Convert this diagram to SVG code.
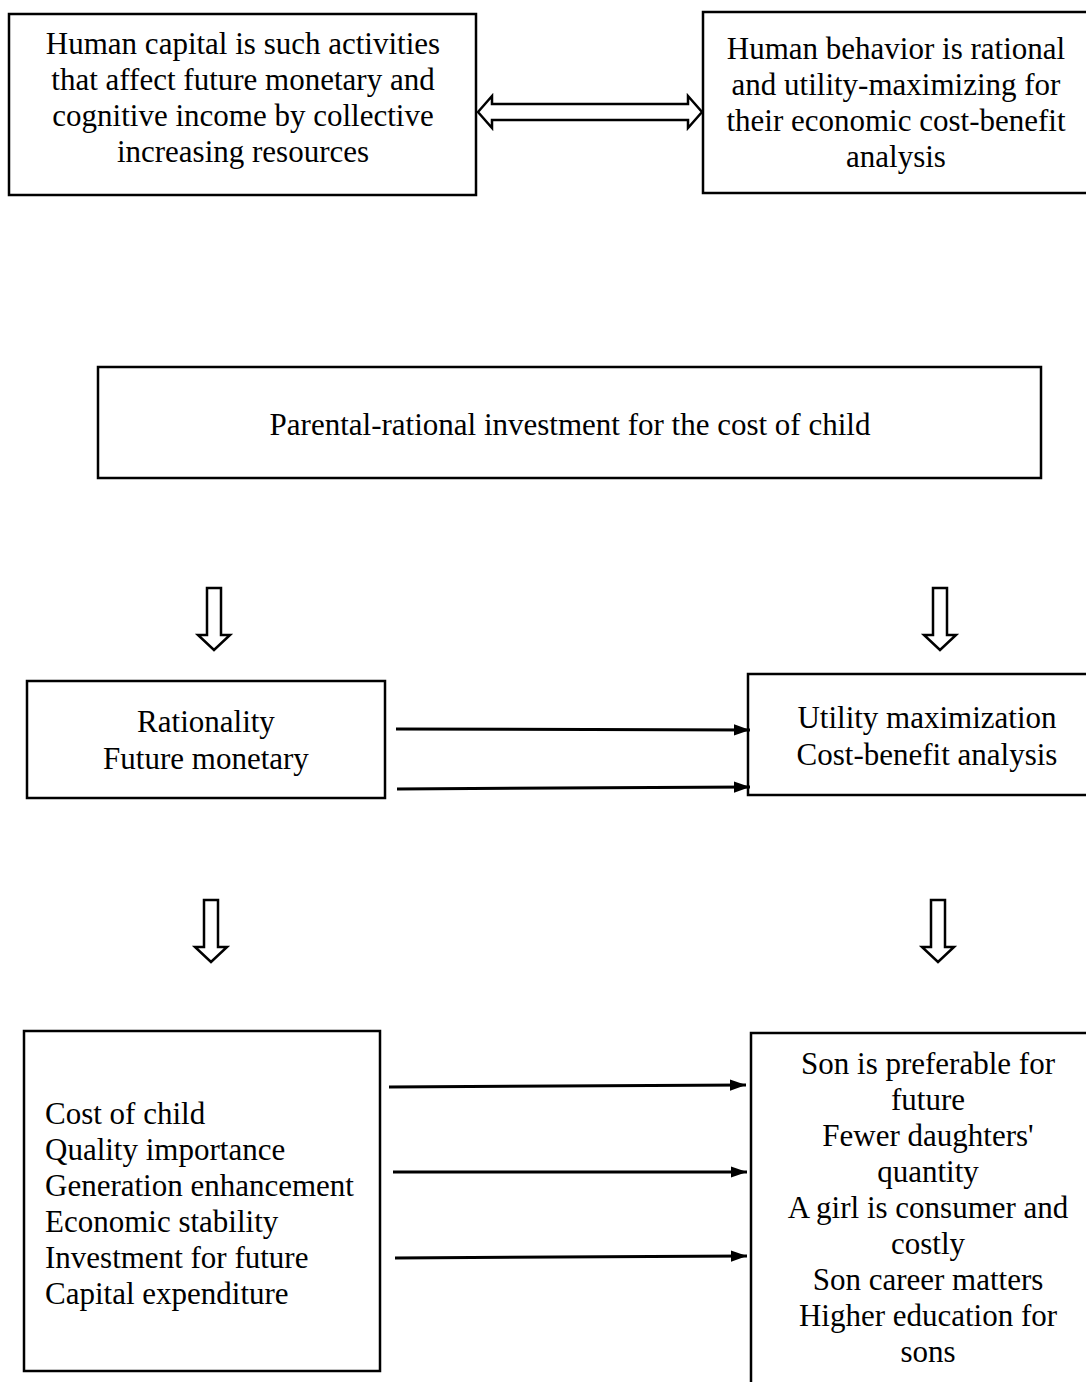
<svg xmlns="http://www.w3.org/2000/svg" width="1086" height="1382" viewBox="0 0 1086 1382">
<defs>
<style>
.box{fill:#fff;stroke:#000;stroke-width:2.5}
.t{font-family:"Liberation Serif","Times New Roman",serif;font-size:31px;fill:#000}
.c{text-anchor:middle}
.hol{fill:#fff;stroke:#000;stroke-width:2.5;stroke-linejoin:miter}
.ln{stroke:#000;stroke-width:3;fill:none}
</style>
<marker id="ah2" viewBox="0 0 10 10" refX="10" refY="5" markerWidth="16" markerHeight="16" markerUnits="userSpaceOnUse" orient="auto">
<path d="M0,1.5 L10,5 L0,8.5 z" fill="#000"/>
</marker>
</defs>
<rect width="1086" height="1382" fill="#fff"/>

<g id="node-human-capital">
<rect class="box" x="9" y="14" width="467" height="181"/>
<text class="t c" x="243" y="54">Human capital is such activities</text>
<text class="t c" x="243" y="90">that affect future monetary and</text>
<text class="t c" x="243" y="126">cognitive income by collective</text>
<text class="t c" x="243" y="162">increasing resources</text>
</g>

<g id="node-human-behavior">
<rect class="box" x="703" y="12" width="390" height="181"/>
<text class="t c" x="896" y="59">Human behavior is rational</text>
<text class="t c" x="896" y="95">and utility-maximizing for</text>
<text class="t c" x="896" y="131">their economic cost-benefit</text>
<text class="t c" x="896" y="167">analysis</text>
</g>

<g id="node-parental">
<rect class="box" x="98" y="367" width="943" height="111"/>
<text class="t c" x="570" y="435">Parental-rational investment for the cost of child</text>
</g>

<g id="node-rationality">
<rect class="box" x="27" y="681" width="358" height="117"/>
<text class="t c" x="206" y="732">Rationality</text>
<text class="t c" x="206" y="769">Future monetary</text>
</g>

<g id="node-utility">
<rect class="box" x="748" y="674" width="345" height="121"/>
<text class="t c" x="927" y="728">Utility maximization</text>
<text class="t c" x="927" y="765">Cost-benefit analysis</text>
</g>

<g id="node-cost-of-child">
<rect class="box" x="24" y="1031" width="356" height="340"/>
<text class="t" x="45" y="1124">Cost of child</text>
<text class="t" x="45" y="1160">Quality importance</text>
<text class="t" x="45" y="1196">Generation enhancement</text>
<text class="t" x="45" y="1232">Economic stability</text>
<text class="t" x="45" y="1268">Investment for future</text>
<text class="t" x="45" y="1304">Capital expenditure</text>
</g>

<g id="node-son">
<rect class="box" x="751" y="1033" width="342" height="360"/>
<text class="t c" x="928" y="1074">Son is preferable for</text>
<text class="t c" x="928" y="1110">future</text>
<text class="t c" x="928" y="1146">Fewer daughters'</text>
<text class="t c" x="928" y="1182">quantity</text>
<text class="t c" x="928" y="1218">A girl is consumer and</text>
<text class="t c" x="928" y="1254">costly</text>
<text class="t c" x="928" y="1290">Son career matters</text>
<text class="t c" x="928" y="1326">Higher education for</text>
<text class="t c" x="928" y="1362">sons</text>
</g>

<g id="connectors">
<path class="hol" d="M478,112 L492,96 L492,104 L688,104 L688,96 L702,112 L688,128 L688,120 L492,120 L492,128 Z"/>
<path class="hol" d="M207,588 L221,588 L221,635 L230,635 L214,650 L198,635 L207,635 Z"/>
<path class="hol" d="M933,588 L947,588 L947,635 L956,635 L940,650 L924,635 L933,635 Z"/>
<path class="hol" d="M204,900 L218,900 L218,947 L227,947 L211,962 L195,947 L204,947 Z"/>
<path class="hol" d="M931,900 L945,900 L945,947 L954,947 L938,962 L922,947 L931,947 Z"/>
<line class="ln" x1="396" y1="729" x2="750" y2="730" marker-end="url(#ah2)"/>
<line class="ln" x1="397" y1="789" x2="750" y2="787" marker-end="url(#ah2)"/>
<line class="ln" x1="389" y1="1087" x2="746" y2="1085" marker-end="url(#ah2)"/>
<line class="ln" x1="393" y1="1172" x2="747" y2="1172" marker-end="url(#ah2)"/>
<line class="ln" x1="395" y1="1258" x2="747" y2="1256" marker-end="url(#ah2)"/>
</g>
</svg>
